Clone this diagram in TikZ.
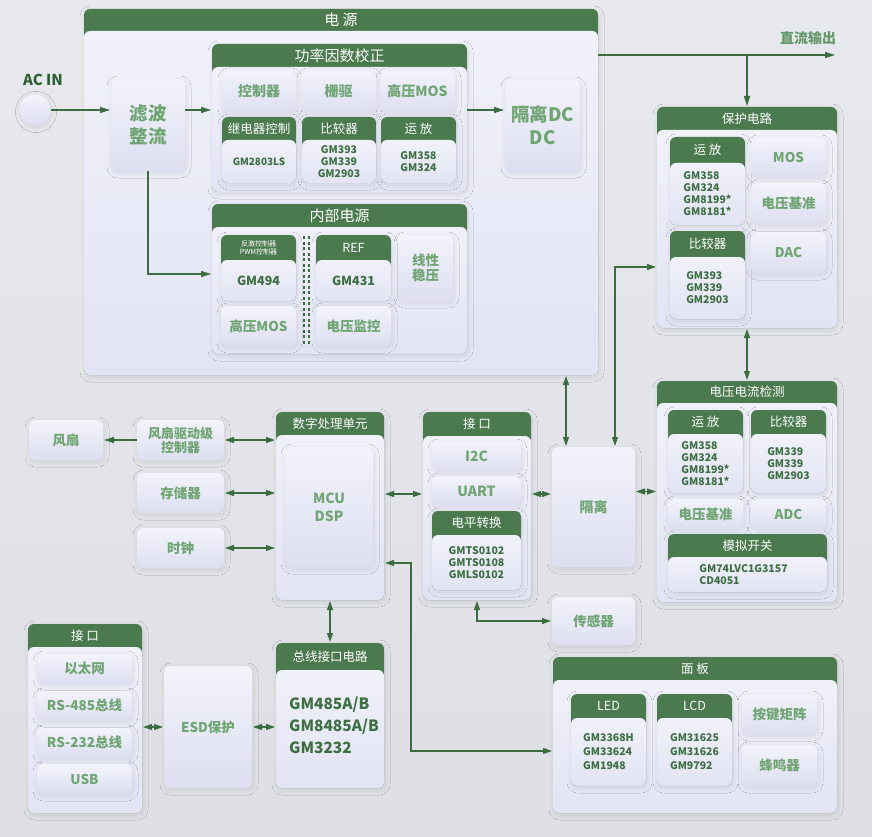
\documentclass[tikz,border=0pt]{standalone}
\usepackage{fontspec}
\setmainfont{Noto Sans CJK SC}
\usetikzlibrary{arrows.meta,shadows.blur}
\definecolor{bgtop}{HTML}{E7E9ED}
\definecolor{bgbot}{HTML}{DDDFE5}
\definecolor{hdr}{HTML}{4A7A4D}
\definecolor{lbl}{HTML}{70A473}
\definecolor{dk}{HTML}{3E6E42}
\definecolor{ln}{HTML}{3B6B3F}
\definecolor{acg}{HTML}{2E5E34}
\definecolor{outg}{HTML}{64986A}
\definecolor{btop}{HTML}{F2F3FB}
\definecolor{bbot}{HTML}{DDDFF1}
\definecolor{gtop}{HTML}{F0F1FA}
\definecolor{gbot}{HTML}{E2E4F4}
\tikzset{
  sh/.style={blur shadow={shadow xshift=1pt, shadow yshift=-2pt, shadow blur radius=5pt, shadow opacity=9, shadow blur steps=12}},
  bx/.style={rounded corners=6pt, top color=btop, bottom color=bbot, sh, inner sep=1pt, outer sep=0pt, text=lbl, align=center, font=\bfseries\fontsize{13.5}{15}\selectfont},
  gm/.style={text=dk, align=center, font=\bfseries\fontsize{10.5}{12}\selectfont, inner sep=0pt},
  ttl/.style={text=white, align=center, font=\fontsize{13}{15}\selectfont, inner sep=0pt},
  big/.style={font=\fontsize{15}{17}\selectfont},
  subt/.style={font=\fontsize{12.5}{14}\selectfont},
  arr/.style={draw=ln, line width=1.1pt, -{Triangle[length=10pt,width=6pt]}, shorten >=1pt},
  darr/.style={draw=ln, line width=1.1pt, {Triangle[length=9pt,width=6pt]}-{Triangle[length=9pt,width=6pt]}, shorten >=1pt, shorten <=1pt},
  sepline/.style={draw=ln, line width=1.3pt, dash pattern=on 3pt off 2.5pt},
}
% box: [style]{x1}{y1}{x2}{y2}{name}{text}
\newcommand\Bx[7][]{\node[bx,#1,minimum width={#4-#2},minimum height={#5-#3}] (#6) at ({(#2+#4)/2},{(#3+#5)/2}) {#7};}
% group: [title style]{x1}{y1}{x2}{y2}{header bottom}{name}{title}
\newcommand\Grp[8][]{%
  \path[fill=hdr, rounded corners=6pt, sh] (#2,#3) rectangle (#4,#5);
  \node[rounded corners=6pt, top color=gtop, bottom color=gbot, inner sep=0pt, outer sep=0pt, minimum width={#4-#2}, minimum height={#5-#6}] (#7-b) at ({(#2+#4)/2},{(#6+#5)/2}) {};
  \node[inner sep=0pt, outer sep=0pt, minimum width={#4-#2}, minimum height={#5-#3}] (#7) at ({(#2+#4)/2},{(#3+#5)/2}) {};
  \node[ttl,#1] (#7-t) at ({(#2+#4)/2},{(#3+#6)/2}) {#8};
}
\begin{document}
\begin{tikzpicture}[x=1pt,y=-1pt]
\shade[top color=bgtop, bottom color=bgbot] (0,0) rectangle (872,837);

% ===== power =====
\Grp[big]{84}{9}{598}{375}{31}{power}{电 源}
\node[font=\bfseries\fontsize{15}{17}\selectfont, text=acg] (actxt) at (43,80) {AC IN};
\node[circle, minimum size=31pt, inner sep=0pt, top color=btop, bottom color=bbot, sh] (acin) at (35,110) {};
\Bx[font=\bfseries\fontsize{18.5}{23}\selectfont]{111}{79}{185}{171}{filt}{滤波\\整流}

\Grp[big]{212}{44}{467}{192}{67}{pfc}{功率因数校正}
\Bx[font=\bfseries\fontsize{14}{16}\selectfont]{222}{71}{296}{112}{ctl}{控制器}
\Bx[font=\bfseries\fontsize{14}{16}\selectfont]{301}{71}{376}{112}{gate}{栅驱}
\Bx[font=\bfseries\fontsize{14}{16}\selectfont]{380}{71}{455}{112}{hmosa}{高压MOS}
\Grp[subt]{222}{117}{296}{183}{140}{relay}{继电器控制}
\node[gm, font=\bfseries\fontsize{10}{12}\selectfont] at (relay-b) {GM2803LS};
\Grp[subt]{302}{117}{376}{183}{140}{cmpa}{比较器}
\node[gm] at (cmpa-b) {GM393\\GM339\\GM2903};
\Grp[subt]{381}{117}{456}{183}{140}{opa}{运 放}
\node[gm] at (opa-b) {GM358\\GM324};

\Bx[font=\bfseries\fontsize{18.5}{23}\selectfont]{505}{80}{580}{171}{dcdc}{隔离DC\\DC}

\Grp[big]{212}{204}{467}{354}{227}{intp}{内部电源}
\Grp[font=\fontsize{7}{8}\selectfont]{221}{235}{296}{301}{260}{pwm}{反激控制器\\PWM控制器}
\node[gm, font=\bfseries\fontsize{12.5}{14}\selectfont] at (pwm-b) {GM494};
\Bx{221}{306}{296}{346}{hmosb}{高压MOS}
\draw[sepline] (304,236) -- (304,346);
\draw[sepline] (309,236) -- (309,346);
\Grp[subt]{316}{235}{391}{301}{260}{ref}{REF}
\node[gm, font=\bfseries\fontsize{12.5}{14}\selectfont] at (ref-b) {GM431};
\Bx{316}{306}{391}{346}{vmon}{电压监控}
\Bx{398}{235}{453}{301}{lin}{线性\\稳压}

% ===== protection =====
\Grp[subt]{657}{107}{837}{328}{130}{prot}{保护电路}
\Grp[subt]{670}{137}{745}{225}{163}{opb}{运 放}
\node[gm, align=left] at (opb-b) {GM358\\GM324\\GM8199*\\GM8181*};
\Grp[subt]{670}{231}{745}{319}{257}{cmpb}{比较器}
\node[gm, align=left] at (cmpb-b) {GM393\\GM339\\GM2903};
\Bx{751}{138}{826}{177}{mos}{MOS}
\Bx{751}{183}{826}{224}{vrefa}{电压基准}
\Bx{751}{232}{826}{273}{dac}{DAC}

% ===== V/I detection =====
\Grp[subt]{657}{381}{837}{602}{403}{vi}{电压电流检测}
\Grp[subt]{668}{410}{743}{493}{434}{opc}{运 放}
\node[gm, align=left] at (opc-b) {GM358\\GM324\\GM8199*\\GM8181*};
\Grp[subt]{751}{410}{826}{493}{434}{cmpc}{比较器}
\node[gm, align=left] at (cmpc-b) {GM339\\GM339\\GM2903};
\Bx{668}{499}{743}{529}{vrefb}{电压基准}
\Bx{751}{499}{826}{529}{adc}{ADC}
\Grp[subt]{668}{534}{827}{592}{557}{asw}{模拟开关}
\node[gm, align=left] at ([xshift=-4pt]asw-b) {GM74LVC1G3157\\CD4051};

\Bx[font=\bfseries\fontsize{14}{16}\selectfont]{552}{447}{635}{567}{iso}{隔离}

% ===== digital =====
\Bx{29}{420}{103}{460}{fan}{风扇}
\Bx[font=\bfseries\fontsize{13}{14}\selectfont]{137}{420}{224}{460}{fandrv}{风扇驱动级\\控制器}
\Bx{137}{473}{224}{513}{mem}{存储器}
\Bx{137}{528}{224}{568}{clk}{时钟}
\Grp[subt]{276}{412}{384}{600}{435}{dsp}{数字处理单元}
\Bx[font=\bfseries\fontsize{14}{18}\selectfont]{285}{447}{373}{567}{mcu}{MCU\\DSP}
\Grp[subt]{423}{412}{531}{600}{436}{iface}{接 口}
\Bx[font=\bfseries\fontsize{14}{16}\selectfont]{432}{442}{521}{471}{itc}{I2C}
\Bx[font=\bfseries\fontsize{14}{16}\selectfont]{432}{476}{521}{506}{uart}{UART}
\Grp[subt]{432}{511}{521}{590}{535}{lvl}{电平转换}
\node[gm] at (lvl-b) {GMTS0102\\GMTS0108\\GMLS0102};
\Bx{552}{597}{635}{645}{sens}{传感器}

\Grp[subt]{553}{657}{837}{813}{680}{panel}{面 板}
\Grp[subt]{571}{694}{646}{786}{718}{led}{LED}
\node[gm, align=left, font=\bfseries\fontsize{10.5}{14}\selectfont] at (led-b) {GM3368H\\GM33624\\GM1948};
\Grp[subt]{657}{694}{732}{786}{718}{lcd}{LCD}
\node[gm, align=left, font=\bfseries\fontsize{10.5}{14}\selectfont] at (lcd-b) {GM31625\\GM31626\\GM9792};
\Bx{742}{694}{817}{734}{keys}{按键矩阵}
\Bx{742}{745}{817}{786}{buzz}{蜂鸣器}

\Grp[subt]{276}{643}{384}{788}{670}{bus}{总线接口电路}
\node[gm, align=left, font=\bfseries\fontsize{15.5}{22}\selectfont] at ([xshift=4pt,yshift=4pt]bus-b) {GM485A/B\\GM8485A/B\\GM3232};
\Bx{164}{666}{252}{788}{esd}{ESD保护}
\Grp[subt]{28}{624}{142}{813}{647}{lif}{接 口}
\Bx{37}{654}{132}{683}{eth}{以太网}
\Bx{37}{691}{132}{720}{rsa}{RS-485总线}
\Bx{37}{728}{132}{757}{rsb}{RS-232总线}
\Bx{37}{764}{132}{794}{usb}{USB}

% ===== connectors =====
\draw[arr] (acin.east) -- (filt.west |- acin);
\draw[arr] (filt.east |- acin) -- (pfc.west |- acin);
\draw[arr] (pfc.east |- acin) -- (dcdc.west |- acin);
\draw[arr] (filt.south) |- ([yshift=5pt]intp.west);

\coordinate (dcend) at (836,55);
\draw[arr] (power.east |- dcend) -- (dcend);
\node[font=\bfseries\fontsize{14}{16}\selectfont, text=outg] (dctxt) at (808,38) {直流输出};
\draw[arr] (prot.north |- dcend) -- (prot.north);

\draw[darr] (prot.south) -- (vi.north);
\draw[darr] ([xshift=-27.5pt]iso.north) -- ([xshift=-27.5pt]iso.north |- power.south);
\draw[darr] ([xshift=21.5pt]iso.north) |- ([yshift=-49.5pt]prot.west);
\draw[darr] (iso.east |- vi.west) -- (vi.west);

\coordinate (rowa) at (0,494);
\draw[darr] (dsp.east |- rowa) -- (iface.west |- rowa);
\draw[darr] (iface.east |- rowa) -- (iso.west |- rowa);

\draw[arr] (fandrv.west) -- (fan.east);
\draw[darr] (fandrv.east) -- (dsp.west |- fandrv.east);
\draw[darr] (mem.east) -- (dsp.west |- mem.east);
\draw[darr] (clk.east) -- (dsp.west |- clk.east);

\draw[darr] (iface.south) |- (sens.west);
\coordinate (pa) at (411,563);
\coordinate (pb) at (411,751);
\draw[darr] (dsp.east |- pa) -- (pa) -- (pb) -- (panel.west |- pb);

\draw[darr] (dsp.south) -- (bus.north);
\draw[darr] (esd.east) -- (bus.west |- esd.east);
\draw[darr] (lif.east |- esd.west) -- (esd.west);
\end{tikzpicture}
\end{document}
